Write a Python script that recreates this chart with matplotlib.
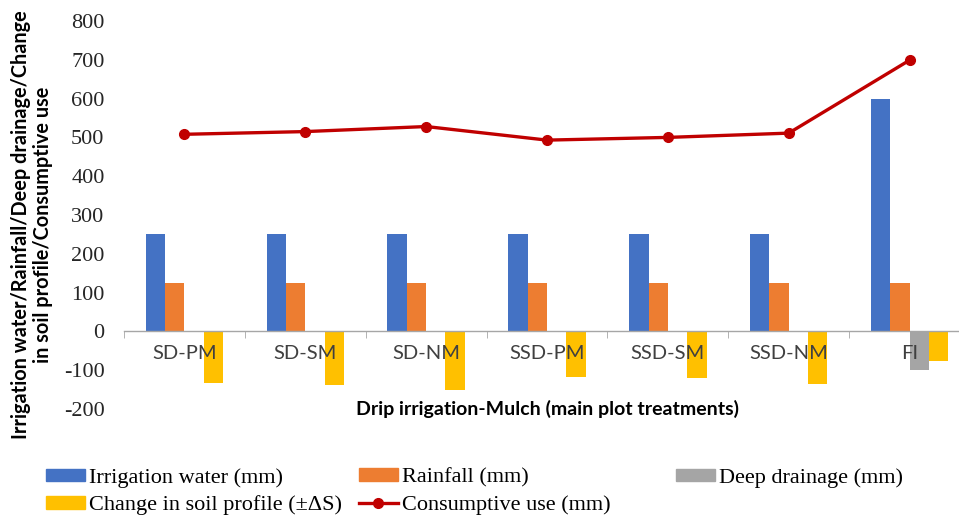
import numpy as np
from matplotlib import pyplot as plt
import matplotlib.patches as mp
from matplotlib.lines import Line2D

# treatments and water balance components (mm)
treatments = ['SD-PM', 'SD-SM', 'SD-NM', 'SSD-PM', 'SSD-SM', 'SSD-NM', 'FI']
irrigation = [250, 250, 250, 250, 250, 250, 600]
rainfall = [125, 125, 125, 125, 125, 125, 125]
deep_drainage = [0, 0, 0, 0, 0, 0, -100]
soil_change = [-132, -138, -152, -117, -119, -135, -77]
consumptive = [508, 515, 528, 493, 500, 511, 699]
yticks = [-200, -100, 0, 100, 200, 300, 400, 500, 600, 700, 800]

c_blue = '#4472C4'
c_orange = '#ED7D31'
c_grey = '#A5A5A5'
c_yellow = '#FFC000'
c_red = '#C00000'

fig = plt.figure(figsize=(9.59, 5.16), dpi=100)
ax = fig.add_axes([124/959, 1-409/516, 846/959, 388/516])

x = np.arange(len(treatments))
w = 0.16
ax.bar(x-1.5*w, irrigation, w, color=c_blue)
ax.bar(x-0.5*w, rainfall, w, color=c_orange)
ax.bar(x+0.5*w, deep_drainage, w, color=c_grey)
ax.bar(x+1.5*w, soil_change, w, color=c_yellow)
ax.plot(x, consumptive, color=c_red, lw=2.4, marker='o', ms=7, zorder=5)

ax.set_xlim(-0.5, len(treatments)-0.5)
ax.set_ylim(-200, 800)
ax.set_yticks(yticks)
ax.set_yticklabels([str(v) for v in yticks], fontfamily='Liberation Serif', fontsize=16,
                   color='#262626')
ax.tick_params(axis='y', length=0, pad=14)

# category axis sits on the zero line
for s in ['top', 'right', 'left']:
    ax.spines[s].set_visible(False)
ax.spines['bottom'].set_position(('data', 0))
ax.spines['bottom'].set_color('#A6A6A6')
ax.spines['bottom'].set_linewidth(1)
ax.set_xticks(x)
ax.set_xticklabels(treatments, fontfamily='Lato', fontsize=14.5, color='#404040')
ax.tick_params(axis='x', length=0, pad=10)
ax.set_xticks(np.arange(len(treatments)+1)-0.5, minor=True)
ax.tick_params(axis='x', which='minor', length=5, color='#A6A6A6', direction='out')

ax.set_xlabel('Drip irrigation-Mulch (main plot treatments)', fontfamily='Lato',
              fontweight='bold', fontsize=14, labelpad=27)
fig.text(32/959, 1-225/516,
         'Irrigation water/Rainfall/Deep drainage/Change\nin soil profile/Consumptive use',
         rotation=90, ha='center', va='center', fontfamily='Lato', fontweight='bold',
         fontsize=14.3, linespacing=1.15)

# legend, three columns placed like the original
h_irr = mp.Patch(color=c_blue, label='Irrigation water (mm)')
h_rain = mp.Patch(color=c_orange, label='Rainfall (mm)')
h_drain = mp.Patch(color=c_grey, label='Deep drainage (mm)')
h_change = mp.Patch(color=c_yellow, label='Change in soil profile (±ΔS)')
h_cons = Line2D([], [], color=c_red, lw=2.4, marker='o', ms=7, label='Consumptive use (mm)')

cols = [([h_irr, h_change], 46), ([h_rain, h_cons], 359), ([h_drain], 676)]
for handles, xpos in cols:
    leg = fig.legend(handles=handles, loc='upper left', bbox_to_anchor=(xpos/959, 1-468/516),
                     frameon=False, borderpad=0, borderaxespad=0, handlelength=1.75,
                     handleheight=0.5, handletextpad=0.2, labelspacing=0.35,
                     prop={'family': 'Liberation Serif', 'size': 16})

fig.savefig('out.png', dpi=100)
